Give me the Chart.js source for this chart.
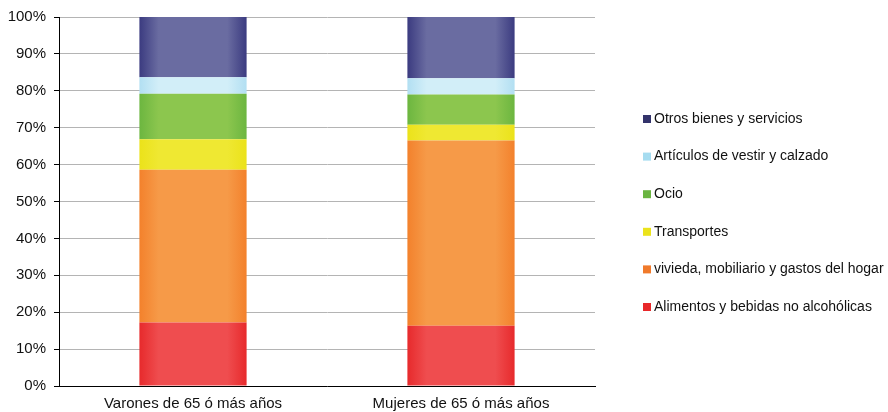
<!DOCTYPE html>
<html>
<head>
<meta charset="utf-8">
<script src="https://cdn.jsdelivr.net/npm/chart.js@4"></script>
<style>
  html, body { margin: 0; padding: 0; background: #fff; }
  #wrap { width: 888px; height: 412px; }
</style>
</head>
<body>
<div id="wrap"><canvas id="gastosChart" width="888" height="412"></canvas></div>
<script>
const categories = ["Varones de 65 ó más años", "Mujeres de 65 ó más años"];

const seriesNames = [
  "Alimentos y bebidas no alcohólicas",
  "vivieda, mobiliario y gastos del hogar",
  "Transportes",
  "Ocio",
  "Artículos de vestir y calzado",
  "Otros bienes y servicios"
];

const alimentos = [17.2, 16.3];
const vivienda = [41.4, 50.2];
const transportes = [8.3, 4.3];
const ocio = [12.3, 8.2];
const vestir = [4.5, 4.4];
const otros = [16.3, 16.6];

const yTicks = [0, 10, 20, 30, 40, 50, 60, 70, 80, 90, 100];

// center / edge colours of each band, plus legend swatch colour
const centerColors = ["#ef4d4f", "#f69a48", "#efe832", "#8cc64e", "#d2eef8", "#6a6ca1"];
const edgeColors = ["#e72a2c", "#f3812c", "#ebe21a", "#6cb640", "#b2dff2", "#3b3b80"];
const swatchColors = ["#e8282a", "#f07a2b", "#ebe31c", "#6ab541", "#a6dcf0", "#33336b"];

const seriesValues = [alimentos, vivienda, transportes, ocio, vestir, otros];

const barShare = 0.4;

function bandFill(i) {
  return function (context) {
    const chart = context.chart;
    const xs = chart.scales.x;
    if (!xs || !isFinite(xs.left) || xs.right <= xs.left) return centerColors[i];
    const cx = xs.getPixelForValue(context.dataIndex);
    const half = (xs.right - xs.left) / categories.length * barShare / 2;
    if (!isFinite(cx) || !isFinite(half)) return centerColors[i];
    const g = chart.ctx.createLinearGradient(cx - half, 0, cx + half, 0);
    g.addColorStop(0, edgeColors[i]);
    g.addColorStop(0.18, centerColors[i]);
    g.addColorStop(0.82, centerColors[i]);
    g.addColorStop(1, edgeColors[i]);
    return g;
  };
}

const datasets = seriesNames.map((name, i) => ({
  label: name,
  data: seriesValues[i],
  backgroundColor: bandFill(i),
  borderWidth: 0,
  categoryPercentage: 1,
  barPercentage: barShare
}));

const fontFamily = "'Liberation Sans', Arial, sans-serif";

// legend drawn on the right, top item = last dataset
const sideLegend = {
  id: "sideLegend",
  afterDraw(chart) {
    const ctx = chart.ctx;
    const items = chart.data.datasets.map((ds, i) => ({ text: ds.label, color: swatchColors[i] })).reverse();
    const boxX = 643, firstY = 119, step = 37.6, box = 8;
    ctx.save();
    ctx.font = "14px " + fontFamily;
    ctx.textBaseline = "middle";
    ctx.textAlign = "left";
    items.forEach((it, k) => {
      const y = firstY + k * step;
      ctx.fillStyle = it.color;
      ctx.fillRect(boxX, y - box / 2, box, box);
      ctx.fillStyle = "#111";
      ctx.fillText(it.text, boxX + box + 3, y);
    });
    ctx.restore();
  }
};

new Chart(document.getElementById("gastosChart"), {
  type: "bar",
  data: { labels: categories, datasets: datasets },
  plugins: [sideLegend],
  options: {
    responsive: false,
    animation: false,
    layout: { padding: { top: 17, right: 293, bottom: 0, left: 0 } },
    plugins: {
      tooltip: { enabled: false },
      legend: { display: false }
    },
    scales: {
      x: {
        stacked: true,
        grid: { display: false, drawTicks: false },
        border: { display: true, color: "#000", width: 1 },
        ticks: { font: { family: fontFamily, size: 15 }, color: "#111", padding: 9 },
        afterFit: scale => { scale.height = 26; }
      },
      y: {
        stacked: true,
        min: 0,
        max: 100,
        afterBuildTicks: scale => { scale.ticks = yTicks.map(v => ({ value: v })); },
        grid: { color: "#b4b4b4", tickLength: 5, tickColor: "#000" },
        border: { display: true, color: "#000", width: 1 },
        ticks: { font: { family: fontFamily, size: 15 }, color: "#111", padding: 8, callback: v => v + "%" },
        afterFit: scale => { scale.width = 59; }
      }
    }
  }
});
</script>
</body>
</html>
